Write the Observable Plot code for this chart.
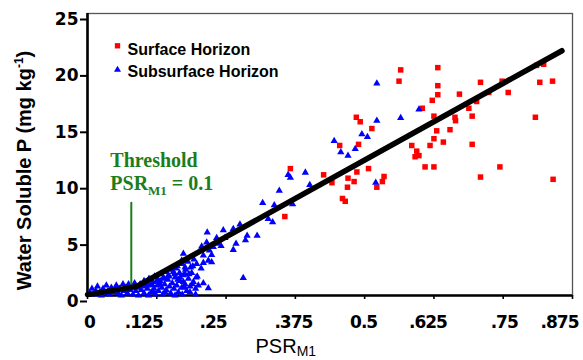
<!DOCTYPE html>
<html><head><meta charset="utf-8">
<script src="https://cdn.jsdelivr.net/npm/d3@7"></script>
<script src="https://cdn.jsdelivr.net/npm/@observablehq/plot@0.6"></script>
<style>
html,body{margin:0;padding:0;background:#fff;}
#chart svg{display:block;}
g[aria-label="x-axis tick label"] text{letter-spacing:-1px;}
</style>
</head><body><div id="chart"></div>
<script>
// ---- data ----
const seriesNames = ["Surface Horizon", "Subsurface Horizon"];
const seriesColors = ["#ff0000", "#0000ff"];
const seriesSymbols = ["square", "triangle"];

// Surface horizon: [PSR_M1, water soluble P]
const surfacePoints = [
  [0.565,20.0],[0.562,19.0],[0.632,20.2],[0.632,18.6],[0.632,17.8],[0.622,17.3],[0.709,18.9],[0.671,17.85],
  [0.724,18.0],[0.759,18.0],[0.748,19.0],[0.810,20.4],[0.823,20.5],[0.816,18.9],[0.839,19.0],[0.808,15.8],
  [0.485,15.8],[0.492,15.4],[0.513,14.8],[0.604,16.6],[0.625,15.9],[0.663,15.8],[0.664,15.5],[0.694,15.9],
  [0.688,16.6],[0.702,17.2],[0.654,14.7],[0.630,14.6],[0.642,13.6],[0.625,13.9],[0.618,13.3],[0.585,13.3],
  [0.594,12.8],[0.598,12.4],[0.591,12.3],[0.694,13.4],[0.609,11.4],[0.625,11.4],[0.744,11.4],[0.489,13.4],
  [0.455,13.3],[0.507,11.25],[0.486,10.95],[0.535,10.55],[0.426,10.7],[0.709,10.5],[0.840,10.3],[0.366,11.25],
  [0.470,10.4],[0.356,7.0],[0.441,10.0],[0.481,10.1],[0.469,9.6],[0.460,8.6],[0.465,8.35],[0.522,9.6],[0.532,10.1]
];

// Subsurface horizon: [PSR_M1, water soluble P]
const subsurfacePoints = [
  [0.522,18.8],[0.598,16.5],[0.565,15.75],[0.522,15.5],[0.495,14.3],[0.505,14.05],[0.445,13.7],[0.483,13.0],
  [0.457,12.7],[0.470,12.4],[0.362,10.7],[0.366,10.45],[0.393,10.9],[0.520,10.0],[0.401,9.8],[0.370,8.1],[0.346,9.3],
  [0.316,8.2],[0.337,8.0],[0.326,6.8],[0.334,6.5],[0.306,5.3],[0.288,5.3],[0.285,4.9],[0.275,6.3],[0.263,5.9],
  [0.268,4.6],[0.263,4.05],[0.245,5.8],[0.248,5.1],[0.233,5.1],[0.235,4.6],[0.241,4.4],[0.227,4.3],[0.216,5.6],
  [0.215,4.7],[0.220,4.0],[0.224,3.6],[0.206,4.35],[0.209,3.55],[0.224,2.95],[0.209,2.9],[0.205,2.4],[0.281,1.55],
  [0.209,1.1],[0.218,0.65],[0.173,3.7],[0.176,2.5],[0.176,1.9],[0.173,1.2],[0.175,0.75],[0.167,1.6],[0.155,2.1],
  [0.170,3.1],[0.146,1.8],[0.137,1.6],[0.125,1.3],[0.131,1.0],[0.107,1.2],[0.218,3.1],[0.196,1.6],[0.190,2.6],
  [0.160,2.4],[0.185,0.3],[0.195,0.1],
  [0.004,0.2],[0.008,0.6],[0.012,0.1],[0.015,0.4],[0.018,0.8],[0.022,0.3],[0.025,0.0],[0.028,0.6],[0.031,0.2],
  [0.034,0.9],[0.037,0.4],[0.040,0.1],[0.043,0.7],[0.046,0.3],[0.049,0.5],[0.052,0.9],[0.055,0.2],[0.058,0.6],
  [0.061,0.0],[0.064,1.0],[0.066,0.4],[0.069,0.7],[0.072,0.2],[0.074,1.0],[0.077,0.5],[0.080,0.8],[0.082,0.1],
  [0.085,1.1],[0.087,0.4],[0.090,0.7],[0.092,0.0],[0.095,1.0],[0.097,0.5],[0.100,0.8],[0.102,0.2],[0.105,1.1],
  [0.108,0.6],[0.110,0.0],[0.113,0.9],[0.115,0.3],[0.118,1.2],[0.120,0.6],[0.123,0.1],[0.126,0.9],[0.128,0.4],
  [0.131,1.3],[0.134,0.7],[0.136,0.1],[0.139,1.0],[0.142,0.5],[0.145,1.4],[0.148,0.8],[0.150,0.2],[0.153,1.1],
  [0.156,0.6],[0.158,1.6],[0.161,0.9],[0.164,0.3],[0.167,1.3],[0.170,0.7],[0.173,1.8],[0.176,1.0],[0.179,0.4],
  [0.182,1.5],[0.185,0.8],[0.188,2.0],[0.191,1.2],[0.195,0.6],[0.198,1.7],[0.200,0.9],
  [0.102,1.3],[0.106,0.9],[0.111,1.5],[0.116,1.0],[0.121,1.7],[0.127,1.4],[0.132,1.9],[0.138,1.5],[0.141,2.1],
  [0.147,1.7],[0.152,2.3],[0.157,1.9],[0.162,2.6],[0.166,2.0],[0.171,2.8],[0.177,2.3],[0.181,3.0],[0.186,2.5],
  [0.192,3.2],[0.197,2.8],[0.119,0.3],[0.163,1.4],[0.183,1.9],[0.189,1.0],[0.158,0.0],[0.171,0.1],[0.140,0.3]
];

// fitted segmented line
const fitPSR = [0, 0.088, 0.856];
const fitWSP = [0.08, 0.79, 21.7];

// threshold marker
const thresholdPSR = 0.079;
const thresholdWSP = [0.85, 8.22];
const thresholdLabels = ["Threshold", "PSR_M1 = 0.1"];

// axes
const xTicks = [0, 0.125, 0.25, 0.375, 0.5, 0.625, 0.75, 0.875];
const xTickLabels = ["0", ".125", ".25", ".375", "0.5", ".625", ".75", ".875"];
const yTicks = [0, 5, 10, 15, 20, 25];
const xLabel = "PSR_M1";
const yLabel = "Water Soluble P (mg kg-1)";

// layout: horizontal nudges of the hand-placed x tick labels (px)
const xTickLabelDx = [2, -13, -13, -2, -1, -6, 1, -13];

// ---- chart ----
const green = "#1c7d1c";
const fitLine = fitPSR.map((x, i) => ({x, y: fitWSP[i]}));
const thrLine = thresholdWSP.map(y => ({x: thresholdPSR, y}));

const legendMarks = seriesNames.flatMap((name, i) => [
  Plot.dot([name], {frameAnchor: "top-left", dx: 30, dy: 32.3 + i * 24, symbol: seriesSymbols[i],
    fill: seriesColors[i], stroke: "none", r: i === 0 ? 3.0 : 2.6}),
  Plot.text([name], {frameAnchor: "top-left", dx: 40, dy: 41 + i * 22.5, text: d => d, textAnchor: "start",
    lineAnchor: "bottom", fontFamily: "Liberation Sans", fontWeight: "bold", fontSize: 16, fill: "black"})
]);

const xTickLabelMarks = xTicks.map((t, i) =>
  Plot.axisX([t], {tickSize: 0, tickPadding: 20, tickFormat: () => xTickLabels[i], fontFamily: "DejaVu Sans",
    fontSize: 17, fontWeight: "bold", dx: xTickLabelDx[i], label: null})
);

const chart = Plot.plot({
  width: 583, height: 360,
  marginLeft: 87, marginRight: 11, marginTop: 13, marginBottom: 65,
  x: {domain: [0, 0.875]},
  y: {domain: [0, 25]},
  style: {background: "white", fontFamily: "DejaVu Sans", color: "black"},
  marks: [
    Plot.frame({stroke: "#555", strokeWidth: 1.3}),
    Plot.axisY(yTicks, {tickSize: 7, tickPadding: 2, tickFormat: d => String(d), fontFamily: "DejaVu Sans",
      fontSize: 17, fontWeight: "bold", dy: 6, label: null, strokeWidth: 2}),
    Plot.axisX(xTicks, {tickSize: 4, text: null, label: null, strokeWidth: 1.6}),
    ...xTickLabelMarks,
    Plot.ruleX([0], {stroke: "black", strokeWidth: 2.6}),
    Plot.ruleY([0], {stroke: "black", strokeWidth: 2.6}),
    Plot.dot(surfacePoints, {x: d => d[0], y: d => d[1], symbol: seriesSymbols[0], fill: seriesColors[0], stroke: "none", r: 3.1}),
    Plot.dot(subsurfacePoints, {x: d => d[0], y: d => d[1], symbol: seriesSymbols[1], fill: seriesColors[1], stroke: "none", r: 2.7}),
    Plot.line(thrLine, {x: "x", y: "y", stroke: green, strokeWidth: 2}),
    Plot.line(fitLine, {x: "x", y: "y", stroke: "black", strokeWidth: 5.5, strokeLinejoin: "round"}),
    Plot.text([thresholdLabels[0]], {x: thresholdPSR, y: thresholdWSP[1], text: d => d, dx: -21, dy: -35.6,
      textAnchor: "start", lineAnchor: "bottom", fontFamily: "Liberation Serif", fontWeight: "bold", fontSize: 20, fill: green}),
    Plot.text([thresholdLabels[1]], {x: thresholdPSR, y: thresholdWSP[1], text: d => d, dx: -21, dy: -12.3,
      textAnchor: "start", lineAnchor: "bottom", fontFamily: "Liberation Serif", fontWeight: "bold", fontSize: 20, fill: green}),
    Plot.text([xLabel], {frameAnchor: "bottom-left", dx: 168, dy: 57, text: d => d, textAnchor: "start",
      lineAnchor: "bottom", fontFamily: "Liberation Sans", fontSize: 20, fill: "black"}),
    Plot.text([yLabel], {frameAnchor: "left", rotate: -90, dx: -57, dy: 16, text: d => d, textAnchor: "middle",
      lineAnchor: "bottom", fontFamily: "Liberation Sans", fontWeight: "bold", fontSize: 20, fill: "black"}),
    ...legendMarks
  ]
});

function richify(svg, key, parts) {
  d3.select(svg).selectAll("text").filter(function () { return this.textContent === key; }).each(function () {
    const t = d3.select(this);
    t.text(null);
    let shift = 0;
    for (const p of parts) {
      const ts = t.append("tspan").text(p.text);
      const target = p.shift || 0;
      if (target !== shift) { ts.attr("dy", target - shift); shift = target; }
      if (p.size) ts.attr("font-size", p.size);
    }
  });
}
richify(chart, xLabel, [{text: "PSR"}, {text: "M1", shift: 3, size: "14px"}]);
richify(chart, thresholdLabels[1], [{text: "PSR"}, {text: "M1", shift: 5, size: "13px"}, {text: " = 0.1", shift: 0}]);
richify(chart, yLabel, [{text: "Water Soluble P (mg kg"}, {text: "-1", shift: -8, size: "12px"}, {text: ")", shift: 0}]);

document.getElementById("chart").appendChild(chart);
</script>
</body></html>
